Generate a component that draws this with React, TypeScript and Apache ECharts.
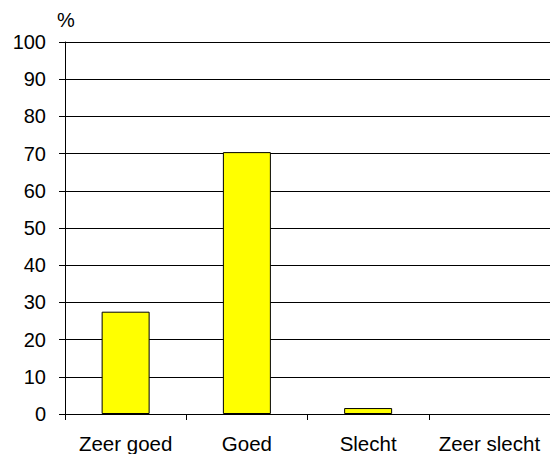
import React, { useEffect, useRef } from "react";
import * as echarts from "echarts";

const categories = ["Zeer goed", "Goed", "Slecht", "Zeer slecht"];
const values = [27.5, 70.4, 1.6, 0];
const yMin = 0;
const yMax = 100;
const yInterval = 10;
const yName = "%";

export default function App() {
  const ref = useRef<HTMLDivElement>(null);
  useEffect(() => {
    if (!ref.current) return;
    const chart = echarts.init(ref.current, undefined, { renderer: "svg" });
    const font = "Arial, 'Liberation Sans', sans-serif";
    chart.setOption({
      animation: false,
      grid: { left: 65, right: -6, top: 42, bottom: 40, containLabel: false },
      xAxis: {
        type: "category",
        data: categories,
        axisLine: { lineStyle: { color: "#000", width: 1 } },
        axisTick: { show: true, length: 6, alignWithLabel: false, lineStyle: { color: "#000" } },
        axisLabel: { color: "#000", fontSize: 20.5, fontFamily: font, margin: 19, interval: 0 },
        splitLine: { show: false },
      },
      yAxis: {
        type: "value",
        min: yMin,
        max: yMax,
        interval: yInterval,
        name: yName,
        nameLocation: "end",
        nameGap: 12,
        nameTextStyle: { color: "#000", fontSize: 20, fontFamily: font, align: "center", padding: [0, 0, 0, 2] },
        axisLine: { show: true, lineStyle: { color: "#000", width: 1 } },
        axisTick: { show: true, length: 6, lineStyle: { color: "#000" } },
        axisLabel: { color: "#000", fontSize: 20, fontFamily: font, margin: 19 },
        splitLine: { show: true, lineStyle: { color: "#000", width: 1 } },
      },
      series: [
        {
          type: "bar",
          data: values.map((v) => (v === 0 ? { value: v, itemStyle: { borderWidth: 0 } } : v)),
          barWidth: 48,
          itemStyle: { color: "#FFFF00", borderColor: "#000", borderWidth: 1 },
        },
      ],
    });
    return () => chart.dispose();
  }, []);
  return (
    <div
      ref={ref}
      style={{ position: "absolute", left: 0, top: 0, width: 550, height: 454, background: "#fff" }}
    />
  );
}
